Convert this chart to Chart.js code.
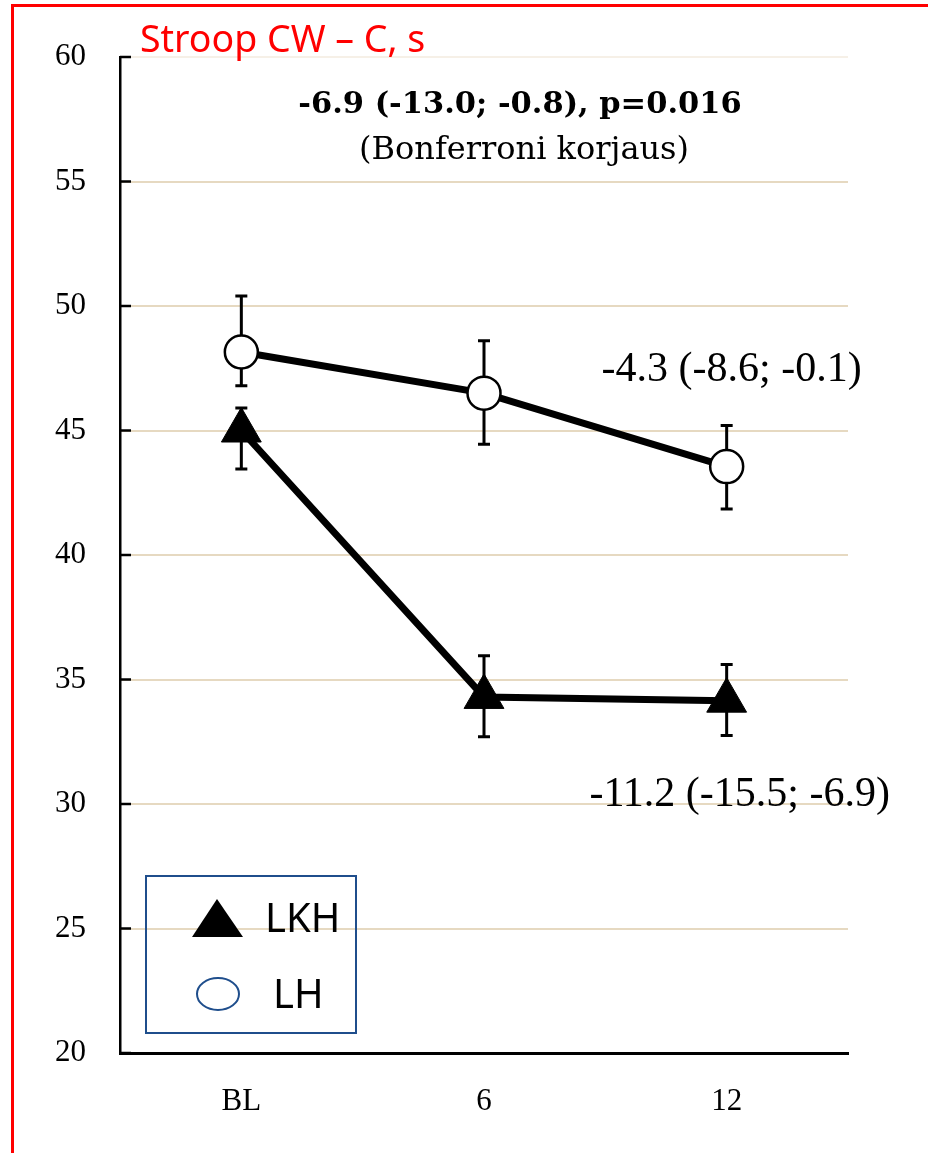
<!DOCTYPE html>
<html>
<head>
<meta charset="utf-8">
<script src="https://cdn.jsdelivr.net/npm/chart.js@4.4.1/dist/chart.umd.min.js"></script>
<style>
  html, body { margin: 0; padding: 0; background: #fff; }
  #wrap { position: relative; width: 928px; height: 1153px; overflow: hidden; }
  #frame { position: absolute; left: 11px; top: 4px; right: -10px; bottom: -10px;
           border-top: 3px solid #ff0000; border-left: 3px solid #ff0000; }
  canvas { position: absolute; left: 0; top: 0; }
</style>
</head>
<body>
<div id="wrap">
  <div id="frame"></div>
  <canvas id="myChart" width="928" height="1153"></canvas>
</div>
<script>
const labels = ['BL', '6', '12'];

// LKH group: means and CI ends
const lkhMean = [45.0, 34.3, 34.15];
const lkhLow = [43.45, 32.7, 32.75];
const lkhHigh = [45.9, 35.95, 35.6];

// LH group
const lhMean = [48.15, 46.5, 43.55];
const lhLow = [46.8, 44.45, 41.85];
const lhHigh = [50.4, 48.6, 45.2];

const titleText = 'Stroop CW – C, s';
const diffText = '-6.9 (-13.0; -0.8), p=0.016';
const noteText = '(Bonferroni korjaus)';
const lhChange = '-4.3 (-8.6; -0.1)';
const lkhChange = '-11.2 (-15.5; -6.9)';

const GRID = '#e6d9c1';

// vertical CI whiskers, drawn under the lines and markers
const errorBars = {
  id: 'errorBars',
  beforeDatasetsDraw(chart) {
    const { ctx, scales: { x, y } } = chart;
    ctx.save();
    ctx.strokeStyle = '#000';
    ctx.lineWidth = 3;
    chart.data.datasets.forEach(ds => {
      ds.low.forEach((lo, i) => {
        const px = x.getPixelForValue(i);
        const top = y.getPixelForValue(ds.high[i]);
        const bot = y.getPixelForValue(lo);
        ctx.beginPath();
        ctx.moveTo(px, top); ctx.lineTo(px, bot);
        ctx.moveTo(px - 6, top); ctx.lineTo(px + 6, top);
        ctx.moveTo(px - 6, bot); ctx.lineTo(px + 6, bot);
        ctx.stroke();
      });
    });
    // short tick marks on the inside of the y axis
    ctx.lineWidth = 2.5;
    y.ticks.forEach(t => {
      const py = y.getPixelForValue(t.value);
      ctx.beginPath();
      ctx.moveTo(chart.chartArea.left, py);
      ctx.lineTo(chart.chartArea.left + 11, py);
      ctx.stroke();
    });
    ctx.restore();
  }
};

// title, effect texts and the boxed legend
const decorations = {
  id: 'decorations',
  afterDraw(chart) {
    const { ctx, chartArea, scales: { x, y } } = chart;
    ctx.save();

    ctx.fillStyle = '#ff0000';
    ctx.font = '37.5px "Noto Sans"';
    ctx.textAlign = 'left';
    ctx.textBaseline = 'alphabetic';
    ctx.fillText(titleText, chartArea.left + 20, 52);

    ctx.fillStyle = '#000';
    ctx.textAlign = 'center';
    ctx.font = 'bold 30.5px "DejaVu Serif"';
    ctx.fillText(diffText, x.getPixelForValue(1) + 36, y.getPixelForValue(57.75));
    ctx.font = '32px "DejaVu Serif"';
    ctx.fillText(noteText, x.getPixelForValue(1) + 40, y.getPixelForValue(55.9));

    ctx.font = '42px "Liberation Serif"';
    ctx.fillText(lhChange, x.getPixelForValue(2) + 5, y.getPixelForValue(47.0));
    ctx.fillText(lkhChange, x.getPixelForValue(2) + 13, y.getPixelForValue(29.9));

    // legend box
    const bx = 146, by = 876, bw = 210, bh = 157;
    ctx.strokeStyle = '#1f4e8c';
    ctx.lineWidth = 2;
    ctx.strokeRect(bx, by, bw, bh);

    ctx.fillStyle = '#000';
    ctx.beginPath();
    ctx.moveTo(bx + 71, by + 23);
    ctx.lineTo(bx + 97, by + 61);
    ctx.lineTo(bx + 46, by + 61);
    ctx.closePath();
    ctx.fill();

    ctx.beginPath();
    ctx.ellipse(bx + 72, by + 118, 21, 16, 0, 0, Math.PI * 2);
    ctx.stroke();

    ctx.font = '40px "Noto Sans"';
    ctx.textAlign = 'left';
    ctx.fillText(chart.data.datasets[0].label, bx + 119, by + 56);
    ctx.fillText(chart.data.datasets[1].label, bx + 127, by + 132);

    ctx.restore();
  }
};

const ctx = document.getElementById('myChart').getContext('2d');

new Chart(ctx, {
  type: 'line',
  data: {
    labels: labels,
    datasets: [
      {
        label: 'LKH',
        data: lkhMean,
        low: lkhLow,
        high: lkhHigh,
        borderColor: '#000',
        borderWidth: 7,
        tension: 0,
        pointStyle: 'triangle',
        pointRadius: 23,
        pointBackgroundColor: '#000',
        pointBorderColor: '#000',
        pointBorderWidth: 1
      },
      {
        label: 'LH',
        data: lhMean,
        low: lhLow,
        high: lhHigh,
        borderColor: '#000',
        borderWidth: 7,
        tension: 0,
        pointStyle: 'circle',
        pointRadius: 16.5,
        pointBackgroundColor: '#fff',
        pointBorderColor: '#000',
        pointBorderWidth: 2.5
      }
    ]
  },
  options: {
    responsive: false,
    animation: false,
    layout: { padding: { left: 0, right: 80, top: 57, bottom: 0 } },
    plugins: {
      legend: { display: false },
      tooltip: { enabled: false }
    },
    scales: {
      x: {
        offset: true,
        grid: { display: false, drawTicks: false },
        border: { display: true, color: '#000', width: 3 },
        ticks: {
          color: '#000',
          padding: 30,
          font: { family: 'Liberation Serif', size: 31 }
        },
        afterFit(scale) { scale.height = 100; }
      },
      y: {
        min: 20,
        max: 60,
        grid: {
          drawTicks: false,
          lineWidth: 2,
          color: c => c.tick.value === 20 ? 'rgba(0,0,0,0)' : (c.tick.value === 60 ? '#f6f0e7' : GRID)
        },
        border: { display: true, color: '#000', width: 2.5 },
        ticks: {
          stepSize: 5,
          color: '#000',
          padding: 34,
          font: { family: 'Liberation Serif', size: 31 }
        },
        afterFit(scale) { scale.width = 120; }
      }
    }
  },
  plugins: [errorBars, decorations]
});
</script>
</body>
</html>
